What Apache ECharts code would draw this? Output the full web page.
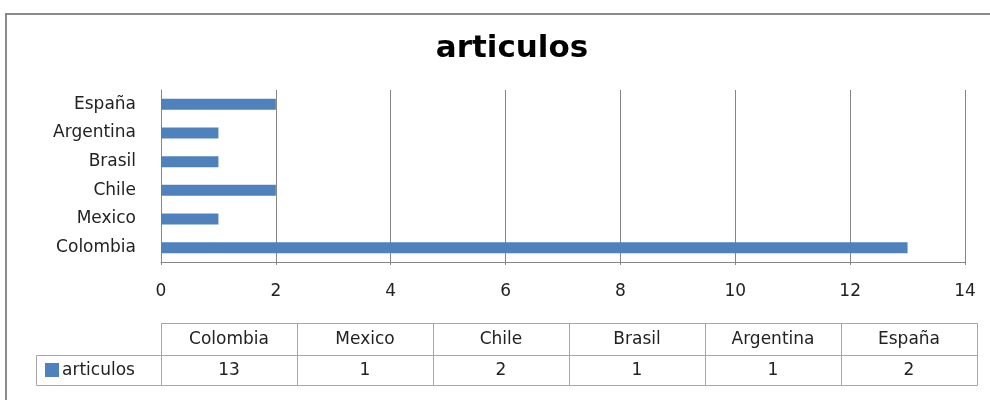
<!DOCTYPE html>
<html><head><meta charset="utf-8">
<script src="https://cdn.jsdelivr.net/npm/echarts@6/dist/echarts.min.js"></script>
<style>html,body{margin:0;padding:0;background:#fff}#c{width:990px;height:400px}</style>
</head><body><div id="c"></div>
<script>
const categories = ['Colombia', 'Mexico', 'Chile', 'Brasil', 'Argentina', 'España'];
const values = [13, 1, 2, 1, 1, 2];
const seriesName = 'articulos';
const titleText = 'articulos';
const xTicks = [0, 2, 4, 6, 8, 10, 12, 14];

const FONT = 'DejaVu Sans';
const FS = 17;
const chart = echarts.init(document.getElementById('c'));

// data table built from the arrays
const tbl = { left: 161, colW: 136, top: 323, rowH: 32, legendLeft: 36 };
const g = [];
g.push({ type: 'rect', shape: { x: 6, y: 14, width: 1000, height: 400 }, style: { fill: 'none', stroke: '#8a8a8a', lineWidth: 2 }, silent: true });
categories.forEach((c, i) => {
  const x = tbl.left + i * tbl.colW;
  g.push({ type: 'rect', shape: { x: x + 0.5, y: tbl.top + 0.5, width: tbl.colW, height: tbl.rowH }, style: { fill: 'none', stroke: '#a6a6a6', lineWidth: 1 } });
  g.push({ type: 'rect', shape: { x: x + 0.5, y: tbl.top + tbl.rowH + 0.5, width: tbl.colW, height: tbl.rowH - 2 }, style: { fill: 'none', stroke: '#a6a6a6', lineWidth: 1 } });
  g.push({ type: 'text', x: x + tbl.colW / 2, y: tbl.top + tbl.rowH / 2 + 1, style: { text: c, fill: '#222', font: FS + 'px "' + FONT + '"', align: 'center', verticalAlign: 'middle' } });
  g.push({ type: 'text', x: x + tbl.colW / 2, y: tbl.top + tbl.rowH * 1.5, style: { text: String(values[i]), fill: '#222', font: FS + 'px "' + FONT + '"', align: 'center', verticalAlign: 'middle' } });
});
g.push({ type: 'rect', shape: { x: tbl.legendLeft + 0.5, y: tbl.top + tbl.rowH + 0.5, width: tbl.left - tbl.legendLeft, height: tbl.rowH - 2 }, style: { fill: 'none', stroke: '#a6a6a6', lineWidth: 1 } });
g.push({ type: 'rect', shape: { x: 45, y: tbl.top + tbl.rowH + 8, width: 14, height: 14 }, style: { fill: '#4F81BD' } });
g.push({ type: 'text', x: 62, y: tbl.top + tbl.rowH * 1.5, style: { text: seriesName, fill: '#222', font: FS + 'px "' + FONT + '"', align: 'left', verticalAlign: 'middle' } });

chart.setOption({
  animation: false,
  backgroundColor: '#fff',
  title: {
    text: titleText, left: 507, top: 28, textAlign: 'center',
    textStyle: { fontFamily: FONT, fontWeight: 'bold', fontSize: 31, color: '#000' }
  },
  grid: { left: 161, right: 25, top: 90, height: 172, containLabel: false },
  xAxis: {
    type: 'value', min: xTicks[0], max: xTicks[xTicks.length - 1], interval: 2,
    axisLine: { show: true, lineStyle: { color: '#868686', width: 1 } },
    axisTick: { show: true, length: 3, lineStyle: { color: '#868686' } },
    splitLine: { show: true, lineStyle: { color: '#868686', width: 1 } },
    axisLabel: { margin: 21, color: '#222', fontFamily: FONT, fontSize: FS }
  },
  yAxis: {
    type: 'category', data: categories,
    axisLine: { show: true, lineStyle: { color: '#868686', width: 1 } },
    axisTick: { show: false },
    axisLabel: { margin: 25, color: '#222', fontFamily: FONT, fontSize: FS }
  },
  series: [{
    name: seriesName, type: 'bar', data: values, barWidth: 11,
    itemStyle: { color: '#4F81BD' }
  }],
  graphic: g
});
</script></body></html>
